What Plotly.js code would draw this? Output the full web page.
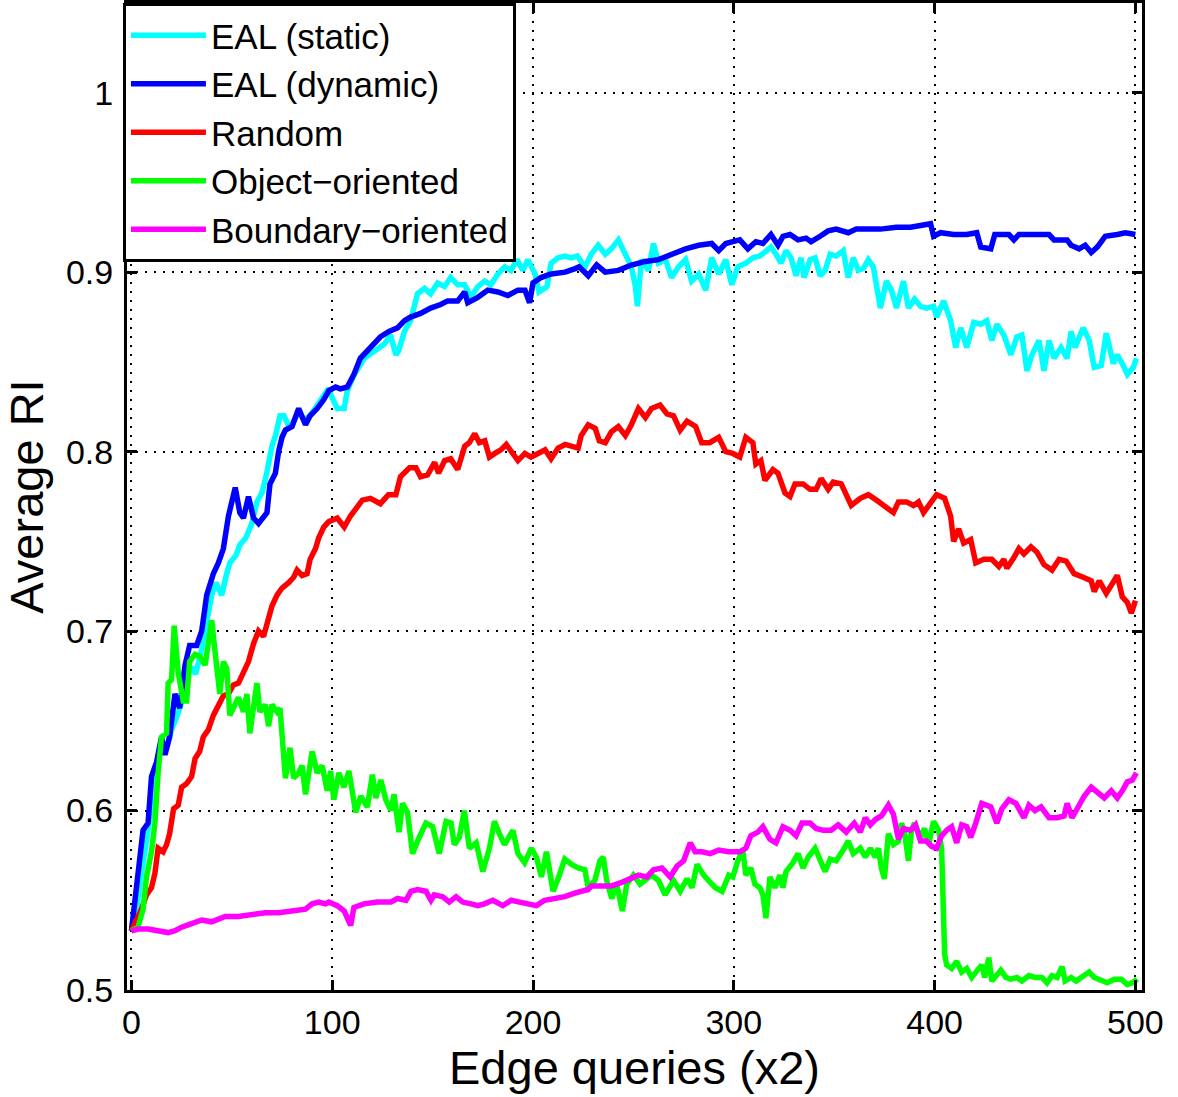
<!DOCTYPE html>
<html>
<head>
<meta charset="utf-8">
<script src="https://cdn.plot.ly/plotly-3.0.1.min.js"></script>
<style>
html,body{margin:0;padding:0;background:#fff;}
#chart{width:1178px;height:1097px;}
</style>
</head>
<body>
<div id="chart"></div>
<script>
// ---- Data ----
const seriesNames = ["EAL (static)", "EAL (dynamic)", "Random", "Object\u2212oriented", "Boundary\u2212oriented"];

const staticX = [0,3,5,7.5,10,12.5,15,17.5,20,22.5,25,27.5,30,32,35,37.5,40,42,45,47,49,52,54,57,60,62.5,65,67,70,72,74,76,78,80,83,86,89,92,95,98,
  102.5,106,107.5,111,116,121,126,129,131.7,133,136,139,142.5,146,149,152.5,156,159,162.5,166,169,172.5,176,179,182.5,186,189,192,195,197.5,201,203,207,209,212.5,216,219,222,226,229,232.5,236,239,242.5,246,249,251,252,254,257.5,260,262.5,266,269,272.5,276,279,282.5,286,289,292.5,296,299,
  302,306,309.5,313,316,318.5,321,323.5,326,328.5,331,333.5,335,338,340.5,343,345.5,348,351,354.5,357,359.5,362,364.5,367,369.5,373,376,378.5,381,384.5,387,390,393,396,399.5,401,404.5,408,410.5,413,416,419.5,423,426,428.5,431,434.5,438,441,443.5,446,448.5,452,454.5,457,459.5,463,466,468,470,474,477,479.5,483,485.5,489,491,493.5,496,499,500.5];
const staticY = [0.533,0.548,0.565,0.583,0.602,0.622,0.638,0.635,0.645,0.652,0.660,0.675,0.680,0.676,0.690,0.705,0.720,0.727,0.720,0.730,0.738,0.742,0.748,0.752,0.760,0.772,0.777,0.786,0.803,0.810,0.820,0.820,0.815,0.815,0.822,0.818,0.820,0.825,0.830,0.835,
  0.824,0.824,0.834,0.843,0.852,0.856,0.860,0.865,0.854,0.856,0.867,0.873,0.888,0.891,0.888,0.894,0.892,0.897,0.893,0.893,0.886,0.892,0.895,0.893,0.899,0.903,0.901,0.907,0.901,0.907,0.899,0.889,0.892,0.905,0.908,0.909,0.908,0.909,0.903,0.910,0.915,0.910,0.913,0.918,0.910,0.903,0.892,0.881,0.907,0.901,0.916,0.905,0.907,0.897,0.903,0.907,0.895,0.899,0.890,0.908,0.899,0.907,0.893,
  0.903,0.905,0.908,0.909,0.912,0.914,0.910,0.905,0.912,0.908,0.898,0.908,0.897,0.907,0.908,0.898,0.901,0.910,0.909,0.912,0.897,0.908,0.901,0.902,0.907,0.903,0.880,0.895,0.890,0.880,0.895,0.880,0.885,0.881,0.880,0.881,0.875,0.884,0.873,0.858,0.869,0.858,0.872,0.871,0.873,0.862,0.871,0.865,0.854,0.864,0.865,0.845,0.854,0.862,0.845,0.862,0.852,0.858,0.852,0.867,0.858,0.869,0.862,0.847,0.848,0.866,0.849,0.854,0.849,0.843,0.847,0.852];

const dynamicX = [0,3.3,5.8,8.3,10,12.5,15,16.7,19,21.7,24,26.7,29,32.5,35,37.5,40.8,43.3,45.8,48.3,51.7,54,55.8,58.3,60.8,63.3,65,67.5,69,71.7,73.3,75,76.7,80,83.3,86.7,89,92.5,95.8,98.3,101.7,104,107.5,110.8,114,117.5,120.8,124,128.3,132.5,136,139,144,149,154,157.5,162.5,166,167.5,172.5,177.5,182.5,187.5,192.5,196,198.3,200,204,209,216,221,223,227.5,231.7,236,242.5,249,256,262.5,269,276,282.5,289,292.5,296,299.5,303,307,311,314.5,318.5,322,324.5,328,332,336,338.5,343,347,351,357,361,366,373,381,388,393,398,399.5,403,409.5,416,421,423,428,430,437,439.5,442,449.5,457,459.5,466,468,472,475,478,481,485,491,495,500];
const dynamicY = [0.533,0.563,0.589,0.593,0.619,0.627,0.641,0.631,0.641,0.665,0.657,0.681,0.692,0.692,0.700,0.720,0.732,0.738,0.746,0.764,0.780,0.766,0.763,0.775,0.763,0.760,0.762,0.766,0.782,0.788,0.800,0.808,0.812,0.814,0.824,0.815,0.820,0.824,0.829,0.834,0.836,0.835,0.836,0.843,0.852,0.856,0.860,0.864,0.867,0.869,0.873,0.875,0.877,0.880,0.882,0.884,0.884,0.889,0.883,0.886,0.890,0.889,0.887,0.890,0.890,0.883,0.894,0.897,0.899,0.900,0.902,0.903,0.898,0.904,0.900,0.901,0.904,0.906,0.907,0.910,0.913,0.915,0.916,0.912,0.916,0.917,0.918,0.913,0.917,0.916,0.921,0.915,0.920,0.921,0.918,0.919,0.917,0.920,0.923,0.924,0.922,0.924,0.924,0.924,0.925,0.925,0.926,0.927,0.920,0.922,0.921,0.921,0.922,0.914,0.913,0.921,0.921,0.918,0.921,0.921,0.921,0.918,0.918,0.915,0.913,0.915,0.911,0.914,0.920,0.921,0.922,0.921];

const randomX = [0,2.5,5,7.5,10,11.7,13.3,15.8,17.5,19,21,23.3,25,27.5,30,31.7,34,35.8,38.3,40.8,43.3,45.8,48.3,50.8,53.3,55.8,58.3,60.8,63.3,65.8,68.3,70,72.5,75,78.3,80.8,82.5,85,87.5,89,91.7,93.3,95.8,98.3,
  102.5,106,109,112.5,115,119,124,128,131.7,134,138.5,141.7,144,147.5,151,153,156,159,162.5,166,168.3,171,173.3,176,178.3,181,184,186.7,189,192.5,196,199,202.5,206,209,212.5,216,219,222.5,224,227.5,231,233,236,239,242.5,246,249,252.5,256,259,263.3,266.7,270,273.3,276.7,281,284,288,292.5,296,
  299.5,303,306,309.5,311,313.5,315.5,319.5,322,325.5,328,330.5,334.5,338,341,343.5,347,349.5,353.5,358.5,363,367,371,376,379.5,382,386,389.5,392,394.5,398,401,405,408,409.5,412,414.5,418,420.5,424.5,428.5,432,434.5,436,439.5,442,444.5,448,451,454.5,458.5,462,465.5,469.5,474,478,479.5,482,485.5,488,491,493.5,496,498,500];
const randomY = [0.533,0.539,0.545,0.553,0.557,0.565,0.579,0.577,0.581,0.587,0.601,0.603,0.613,0.615,0.619,0.629,0.633,0.641,0.645,0.653,0.659,0.664,0.665,0.670,0.671,0.677,0.683,0.693,0.700,0.697,0.708,0.714,0.720,0.724,0.727,0.730,0.734,0.731,0.732,0.740,0.746,0.752,0.758,0.761,
  0.763,0.758,0.764,0.769,0.773,0.774,0.771,0.776,0.776,0.786,0.791,0.791,0.786,0.787,0.794,0.788,0.795,0.796,0.790,0.803,0.805,0.810,0.805,0.806,0.797,0.799,0.801,0.804,0.800,0.795,0.799,0.797,0.799,0.801,0.796,0.802,0.804,0.803,0.802,0.809,0.815,0.813,0.806,0.805,0.811,0.814,0.809,0.815,0.824,0.819,0.824,0.826,0.821,0.820,0.812,0.817,0.814,0.805,0.805,0.808,0.800,
  0.799,0.797,0.808,0.805,0.793,0.795,0.784,0.790,0.788,0.777,0.775,0.782,0.782,0.779,0.779,0.785,0.779,0.783,0.782,0.770,0.774,0.776,0.773,0.769,0.766,0.772,0.772,0.770,0.772,0.766,0.771,0.776,0.774,0.764,0.750,0.757,0.749,0.751,0.738,0.740,0.740,0.736,0.740,0.735,0.741,0.746,0.743,0.747,0.744,0.737,0.734,0.740,0.739,0.732,0.730,0.728,0.722,0.728,0.721,0.726,0.731,0.719,0.716,0.710,0.717,0.726];

const objectX = [0,3.3,5.8,7.5,10,11.7,13.3,15,17.5,18.3,20,21.3,23.3,25.8,27.5,29,31.7,34,36.7,38.3,40,41.7,44,45.8,47.5,49,50.8,53.3,55.8,57.5,59,60.8,62.5,64,66.7,68.3,70,72.5,74,76.7,79,80.8,83.3,85,86.7,90,92.5,95,97.5,
  99.2,100.8,103.3,105.8,108.3,111.7,114.2,117.5,120,121.7,124.2,126.7,129.2,130.8,133.3,135,137.5,140,143.3,146.7,150,153.3,156.7,159.2,160.8,163.3,165.8,168.3,171.7,175,178.3,180.8,183.3,185.8,190,192.5,195.8,199.2,201.7,204.2,206.7,210,212.5,215.8,219.2,222.5,225.8,227.5,230.8,233.3,235,236.7,239.2,241.7,244.5,246.7,250,253.3,256.7,259.2,262.5,265.8,270,273.3,276.7,279.2,281.7,285,288.3,290.8,294.2,297.5,
  299.5,302,304.5,306,308.5,310.5,313,314.5,316,318,320.5,323,324.5,326,329.5,332,334.5,337,340.5,343,345.5,348,351,354.5,357,359.5,363,365.5,368,370.5,372,373.5,375,377,379.5,382,383.5,385,387,388.5,390,393,395,397,399.5,402,403.5,405,406,408.5,411,413.5,416,418.5,421,423.5,425,427,428.5,431,433,435.5,438,441,443.5,447,450,453.5,456,458.5,461,463.5,465,468,470.5,473,477,479.5,483,486,489.5,493,496,498.5,501];
const objectY = [0.533,0.535,0.545,0.563,0.577,0.593,0.621,0.641,0.643,0.671,0.673,0.703,0.677,0.661,0.661,0.683,0.687,0.686,0.681,0.696,0.706,0.688,0.665,0.683,0.679,0.653,0.657,0.663,0.655,0.665,0.643,0.657,0.671,0.655,0.659,0.647,0.659,0.655,0.657,0.618,0.635,0.618,0.621,0.625,0.609,0.633,0.621,0.625,0.611,
  0.622,0.606,0.621,0.613,0.622,0.599,0.608,0.602,0.620,0.607,0.617,0.606,0.600,0.609,0.588,0.604,0.599,0.576,0.585,0.593,0.591,0.576,0.594,0.593,0.581,0.585,0.600,0.579,0.582,0.566,0.579,0.594,0.587,0.581,0.589,0.576,0.571,0.579,0.574,0.563,0.577,0.555,0.562,0.573,0.570,0.568,0.567,0.557,0.561,0.572,0.574,0.561,0.551,0.559,0.544,0.559,0.564,0.559,0.562,0.564,0.561,0.553,0.561,0.555,0.562,0.557,0.570,0.564,0.560,0.557,0.555,0.564,
  0.563,0.572,0.578,0.564,0.568,0.559,0.557,0.553,0.540,0.563,0.557,0.564,0.557,0.566,0.571,0.576,0.568,0.574,0.579,0.572,0.566,0.573,0.572,0.578,0.583,0.576,0.579,0.574,0.579,0.574,0.579,0.568,0.562,0.587,0.581,0.583,0.593,0.588,0.572,0.589,0.593,0.585,0.590,0.581,0.594,0.589,0.579,0.520,0.514,0.512,0.516,0.510,0.512,0.507,0.510,0.514,0.507,0.518,0.505,0.508,0.511,0.507,0.506,0.507,0.505,0.508,0.507,0.507,0.504,0.508,0.507,0.513,0.505,0.507,0.505,0.507,0.510,0.507,0.505,0.504,0.506,0.506,0.503,0.504,0.506];

const boundaryX = [0,3.3,8.3,13.3,18.3,21.7,25,30,35,40,46.7,53.3,60,66.7,73.3,80,86.7,90,93.3,96.7,98.3,
  102.5,106,109.2,110.8,115.8,122.5,129.2,132.5,136.7,139.2,142.5,146.7,149.2,150.8,155,158.3,161.7,165,169.2,172.5,175.8,180,185,189.2,193.3,197.5,201.7,205.8,210.8,215.8,220.8,227.5,229.2,234.2,239.2,244.2,249.2,252.5,256.7,260,264.2,268.3,271.7,275,278.3,280.8,284.2,288.3,292.5,297.5,
  303,306,308.5,312,314.5,318,321,324.5,328,331,334,338,341,344.5,348.5,352,356,360,363,365.5,368,370.5,373.5,377,379.5,382,384.5,388,390.5,393,396,398.5,401,403.5,406,408.5,411,413.5,416,418,420.5,423.5,428,431,433.5,437,440.5,444.5,447,450,453,457,461,464.5,466,468.5,471,474.5,478,481,484.5,488,491,493.5,496,498.5,500.5];
const boundaryY = [0.533,0.534,0.534,0.533,0.532,0.533,0.535,0.537,0.539,0.538,0.541,0.541,0.542,0.543,0.543,0.544,0.545,0.548,0.549,0.548,0.549,
  0.547,0.544,0.536,0.546,0.548,0.549,0.549,0.551,0.550,0.555,0.556,0.555,0.550,0.553,0.552,0.549,0.552,0.549,0.548,0.547,0.548,0.550,0.547,0.550,0.549,0.548,0.547,0.550,0.551,0.552,0.554,0.556,0.558,0.558,0.558,0.560,0.562,0.564,0.563,0.567,0.568,0.563,0.569,0.572,0.582,0.577,0.577,0.576,0.578,0.577,
  0.577,0.579,0.586,0.588,0.591,0.584,0.582,0.591,0.589,0.586,0.593,0.593,0.590,0.589,0.589,0.592,0.588,0.593,0.588,0.596,0.592,0.595,0.597,0.603,0.598,0.584,0.590,0.589,0.592,0.583,0.583,0.580,0.579,0.586,0.589,0.591,0.582,0.592,0.591,0.585,0.593,0.604,0.602,0.593,0.601,0.606,0.604,0.596,0.603,0.600,0.602,0.596,0.596,0.597,0.604,0.596,0.601,0.608,0.613,0.610,0.607,0.611,0.607,0.611,0.616,0.617,0.621];

const xTicks = [0, 100, 200, 300, 400, 500];
const yTicks = [0.5, 0.6, 0.7, 0.8, 0.9, 1];
const xTitle = "Edge queries (x2)";
const yTitle = "Average RI";

// ---- Chart ----
const colors = ["#00FFFF", "#0000FF", "#FF0000", "#00FF00", "#FF00FF"];
const xs = [staticX, dynamicX, randomX, objectX, boundaryX];
const ys = [staticY, dynamicY, randomY, objectY, boundaryY];
const FONT = '"Liberation Sans", Arial, Helvetica, sans-serif';

const traces = seriesNames.map((n, i) => ({
  type: 'scatter', mode: 'lines', name: n,
  x: xs[i], y: ys[i],
  line: {color: colors[i], width: 5.5},
  hoverinfo: 'skip'
}));

const axisCommon = {
  showline: true, linecolor: '#000', linewidth: 3, mirror: 'ticks',
  ticks: 'inside', ticklen: 10, tickwidth: 3, tickcolor: '#000',
  showgrid: true, gridcolor: '#000', gridwidth: 2, griddash: '2px,7px',
  zeroline: false, tickfont: {family: FONT, size: 34, color: '#000'}
};

const layout = {
  width: 1178, height: 1097,
  margin: {l: 127, r: 36, t: 3, b: 107, pad: 0},
  paper_bgcolor: '#fff', plot_bgcolor: '#fff',
  font: {family: FONT, color: '#000'},
  showlegend: true,
  xaxis: Object.assign({}, axisCommon, {
    range: [-2.2, 503.3], tickvals: xTicks, ticktext: xTicks.map(String),
    ticklabelstandoff: 0,
    title: {text: xTitle, font: {family: FONT, size: 47, color: '#000'}, standoff: 12}
  }),
  yaxis: Object.assign({}, axisCommon, {
    range: [0.5, 1.05], tickvals: yTicks, ticktext: yTicks.map(String),
    ticklabelstandoff: 4,
    title: {text: yTitle, font: {family: FONT, size: 47, color: '#000'}, standoff: 12}
  }),
  legend: {
    x: -0.004, y: 1, xanchor: 'left', yanchor: 'top',
    bgcolor: '#fff', bordercolor: '#000', borderwidth: 3,
    font: {family: FONT, size: 35, color: '#000'},
    itemwidth: 75, tracegroupgap: 0
  }
};

Plotly.newPlot('chart', traces, layout, {staticPlot: true, displayModeBar: false});
</script>
</body>
</html>
